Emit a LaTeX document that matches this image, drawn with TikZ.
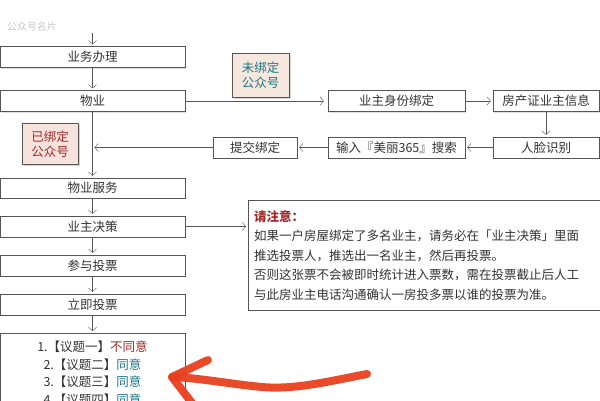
\documentclass[tikz,border=0pt]{standalone}
\usepackage{fontspec}
\setmainfont{Noto Sans CJK SC}
\usetikzlibrary{shadows,arrows.meta}
\definecolor{boxgray}{HTML}{555555}
\definecolor{txtgray}{HTML}{333333}
\definecolor{tealtxt}{HTML}{1F7585}
\definecolor{darkred}{HTML}{A32828}
\definecolor{peach}{HTML}{F6E8DE}
\definecolor{pinkish}{HTML}{F7E3DE}
\definecolor{penred}{HTML}{E8401E}

\begin{document}
\begin{tikzpicture}[x=1pt,y=-1pt,
  every node/.style={font=\fontsize{12.5}{19.5}\selectfont,text=txtgray},
  flowbox/.style={draw=boxgray,fill=white,minimum height=21pt,inner sep=0pt,
    drop shadow={shadow xshift=1pt,shadow yshift=-1pt,opacity=0.25}},
  tagbox/.style={draw=boxgray,line width=0.6pt,align=center,inner sep=0pt,
    drop shadow={shadow xshift=1.5pt,shadow yshift=-1.5pt,opacity=0.35}},
  link/.style={draw=boxgray,-{Straight Barb[length=3.5pt,width=8pt]},shorten >=2pt}]
\useasboundingbox (0,0) rectangle (600,400);

% left column
\node[text=black!22,font=\fontsize{10}{12}\selectfont] (card) at (32,27) {公众号名片};
\coordinate (top) at (92.5,33);
\node[flowbox,minimum width=185pt] (ywbl) at (92.5,57) {业务办理};
\node[flowbox,minimum width=185pt] (wy) at (92.5,101) {物业};
\node[flowbox,minimum width=185pt,minimum height=20pt] (wyfw) at (92.5,188) {物业服务};
\node[flowbox,minimum width=185pt] (yzjc) at (92.5,226.5) {业主决策};
\node[flowbox,minimum width=185pt] (cytp) at (92.5,265.5) {参与投票};
\node[flowbox,minimum width=185pt] (ljtp) at (92.5,304.5) {立即投票};
\node[flowbox,minimum width=185pt,minimum height=80pt,anchor=north,align=center,
  inner sep=1pt,font=\fontsize{12.5}{17.8}\selectfont] (yt) at (92.5,333)
  {1.【议题一】{\color{darkred}不同意}\\
   2.【议题二】{\color{tealtxt}同意}\\
   3.【议题三】{\color{tealtxt}同意}\\
   4.【议题四】{\color{tealtxt}同意}};

% binding loop
\node[flowbox,minimum width=137pt] (sfbd) at (396.5,101) {业主身份绑定};
\node[flowbox,minimum width=106pt] (fcz) at (546,101) {房产证业主信息};
\node[flowbox,minimum width=106pt] (rlsb) at (546,147.5) {人脸识别};
\node[flowbox,minimum width=137pt] (srss) at (396.5,147.5) {输入『美丽365』搜索};
\node[flowbox,minimum width=84pt] (tjbd) at (255,147.5) {提交绑定};

% tags
\node[tagbox,fill=peach,text=tealtxt,minimum width=57pt,minimum height=44pt] (wbd) at (260.5,75) {未绑定\\[-4pt]公众号};
\node[tagbox,fill=pinkish,text=darkred,minimum width=56pt,minimum height=41pt] (ybd) at (50,144) {已绑定\\[-4pt]公众号};

% note
\node[draw=boxgray,fill=white,anchor=north west,minimum width=351pt,minimum height=110pt,
  text width=340pt,align=left,inner xsep=6pt,inner ysep=4pt,
  drop shadow={shadow xshift=1pt,shadow yshift=-1pt,opacity=0.25}] (note) at (248,200)
  {{\color{darkred}\bfseries 请注意：}\\
   如果一户房屋绑定了多名业主，请务必在「业主决策」里面\\
   推选投票人，推选出一名业主，然后再投票。\\
   否则这张票不会被即时统计进入票数，需在投票截止后人工\\
   与此房业主电话沟通确认一房投多票以谁的投票为准。};

% connectors
\draw[link] (top) -- (ywbl);
\draw[link] (ywbl) -- (wy);
\draw[link,shorten >=4pt] (wy.east) -- (sfbd.west);
\draw[link] (sfbd) -- (fcz);
\draw[link] (fcz) -- (rlsb);
\draw[link] (rlsb) -- (srss);
\draw[link] (srss) -- (tjbd);
\draw[link] (tjbd.west) -- (wy.south |- tjbd.west);
\draw[link] (wy) -- (wyfw);
\draw[link] (yzjc.east) -- (note.west |- yzjc.east);
\draw[link] (wyfw) -- (yzjc);
\draw[link] (yzjc) -- (cytp);
\draw[link] (cytp) -- (ljtp);
\draw[link] (ljtp) -- (yt);

% red pen mark
\draw[penred,line width=8pt,line cap=round,line join=round,opacity=0.95]
  (367,374) .. controls (330,381) and (295,390) .. (262,387)
  .. controls (230,384) and (200,378) .. (172,377);
\draw[penred,line width=8pt,line cap=round,line join=round,opacity=0.95]
  (208,360) -- (172,377) -- (192,403);
\end{tikzpicture}
\end{document}
